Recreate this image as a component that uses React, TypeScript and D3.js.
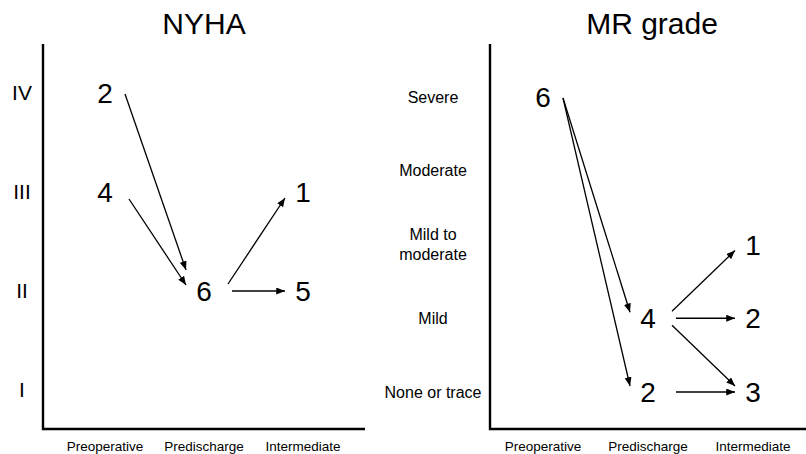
import * as d3 from "d3";

const stages = ["Preoperative", "Predischarge", "Intermediate"];

const nyhaLevels = ["I", "II", "III", "IV"];
const nyhaTicks = [["I"], ["II"], ["III"], ["IV"]];
const nyhaNodes = [
  { stage: "Preoperative", level: "IV", n: 2 },
  { stage: "Preoperative", level: "III", n: 4 },
  { stage: "Predischarge", level: "II", n: 6 },
  { stage: "Intermediate", level: "III", n: 1 },
  { stage: "Intermediate", level: "II", n: 5 },
];
const nyhaFlows = [
  { from: ["Preoperative", "IV"], to: ["Predischarge", "II"] },
  { from: ["Preoperative", "III"], to: ["Predischarge", "II"] },
  { from: ["Predischarge", "II"], to: ["Intermediate", "III"] },
  { from: ["Predischarge", "II"], to: ["Intermediate", "II"] },
];

const mrLevels = ["None", "Mild", "MildModerate", "Moderate", "Severe"];
const mrTicks = [["None or trace"], ["Mild"], ["Mild to", "moderate"], ["Moderate"], ["Severe"]];
const mrNodes = [
  { stage: "Preoperative", level: "Severe", n: 6 },
  { stage: "Predischarge", level: "Mild", n: 4 },
  { stage: "Predischarge", level: "None", n: 2 },
  { stage: "Intermediate", level: "MildModerate", n: 1 },
  { stage: "Intermediate", level: "Mild", n: 2 },
  { stage: "Intermediate", level: "None", n: 3 },
];
const mrFlows = [
  { from: ["Preoperative", "Severe"], to: ["Predischarge", "Mild"] },
  { from: ["Preoperative", "Severe"], to: ["Predischarge", "None"] },
  { from: ["Predischarge", "Mild"], to: ["Intermediate", "MildModerate"] },
  { from: ["Predischarge", "Mild"], to: ["Intermediate", "Mild"] },
  { from: ["Predischarge", "Mild"], to: ["Intermediate", "None"] },
  { from: ["Predischarge", "None"], to: ["Intermediate", "None"] },
];

const FONT = "'Liberation Sans', Arial, Helvetica, sans-serif";

type Node = { stage: string; level: string; n: number };
type Flow = { from: string[]; to: string[] };

const Panel = (props: any) => {
  const { id, title, titleX, levels, ticks, nodes, flows, axisX, axisEnd, xRange, yRange, tickX, tickSize, tickLine } = props;
  const top = 44, bottom = 429;
  const x = d3.scalePoint<string>().domain(stages).range(xRange);
  const y = d3.scalePoint<string>().domain(levels).range(yRange);

  const lvl = (l: string) => levels.indexOf(l);

  const arrows = (flows as Flow[]).map((f, i) => {
    const sx = x(f.from[0])!, sy = y(f.from[1])!;
    const tx = x(f.to[0])!, ty = y(f.to[1])!;
    const steps = Math.abs(lvl(f.to[1]) - lvl(f.from[1]));
    const s = Math.sign(ty - sy);
    const incoming = (flows as Flow[])
      .filter(g => g.to[0] === f.to[0] && g.to[1] === f.to[1] && g.from[1] !== g.to[1])
      .map(g => Math.abs(lvl(g.to[1]) - lvl(g.from[1])))
      .sort((a, b) => a - b);
    const rank = Math.max(0, incoming.indexOf(steps));
    const x1 = sx + 28 - 4 * Math.min(steps, 2);
    const y1 = sy + s * (steps === 1 ? 7 : steps === 0 ? 0 : 1);
    const x2 = tx - 18;
    const y2 = ty - s * (6 + 15 * rank);
    return <line key={i} x1={x1} y1={y1} x2={x2} y2={y2} stroke="#000" strokeWidth={1.3} markerEnd={`url(#arrow-${id})`} />;
  });

  return (
    <g fontFamily={FONT}>
      <defs>
        <marker id={`arrow-${id}`} viewBox="0 0 10 8" refX={10} refY={4} markerWidth={9} markerHeight={7} orient="auto" markerUnits="userSpaceOnUse">
          <path d="M0,0L10,4L0,8Z" fill="#000" />
        </marker>
      </defs>
      <text x={titleX} y={34} textAnchor="middle" fontSize={30}>{title}</text>
      <path d={`M${axisX},${top}V${bottom}H${axisEnd}`} fill="none" stroke="#000" strokeWidth={2.4} />
      {levels.map((l: string, i: number) => {
        const lines = ticks[i];
        const y0 = y(l)! - ((lines.length - 1) * tickLine) / 2;
        return (
          <text key={l} x={tickX} y={y0} textAnchor="middle" fontSize={tickSize} dy="0.35em">
            {lines.map((t: string, j: number) => (
              <tspan key={j} x={tickX} dy={j === 0 ? "0.35em" : tickLine}>{t}</tspan>
            ))}
          </text>
        );
      })}
      {stages.map(st => (
        <text key={st} x={x(st)} y={451} textAnchor="middle" fontSize={13.5}>{st}</text>
      ))}
      {(nodes as Node[]).map((d, i) => (
        <text key={i} x={x(d.stage)} y={y(d.level)} dy="0.36em" textAnchor="middle" fontSize={28}>{d.n}</text>
      ))}
      {arrows}
    </g>
  );
};

export default function App() {
  return (
    <svg width={806} height={454} style={{ position: "absolute", left: 0, top: 0, background: "#fff" }}>
      <rect width={806} height={454} fill="#fff" />
      <Panel id="nyha" title="NYHA" titleX={204} levels={nyhaLevels} ticks={nyhaTicks} nodes={nyhaNodes} flows={nyhaFlows}
        axisX={43} axisEnd={365} xRange={[105, 303]} yRange={[390, 93]} tickX={22} tickSize={21} tickLine={20} />
      <Panel id="mr" title="MR grade" titleX={652} levels={mrLevels} ticks={mrTicks} nodes={mrNodes} flows={mrFlows}
        axisX={490} axisEnd={806} xRange={[543, 753]} yRange={[392, 97]} tickX={433} tickSize={16} tickLine={20} />
    </svg>
  );
}
